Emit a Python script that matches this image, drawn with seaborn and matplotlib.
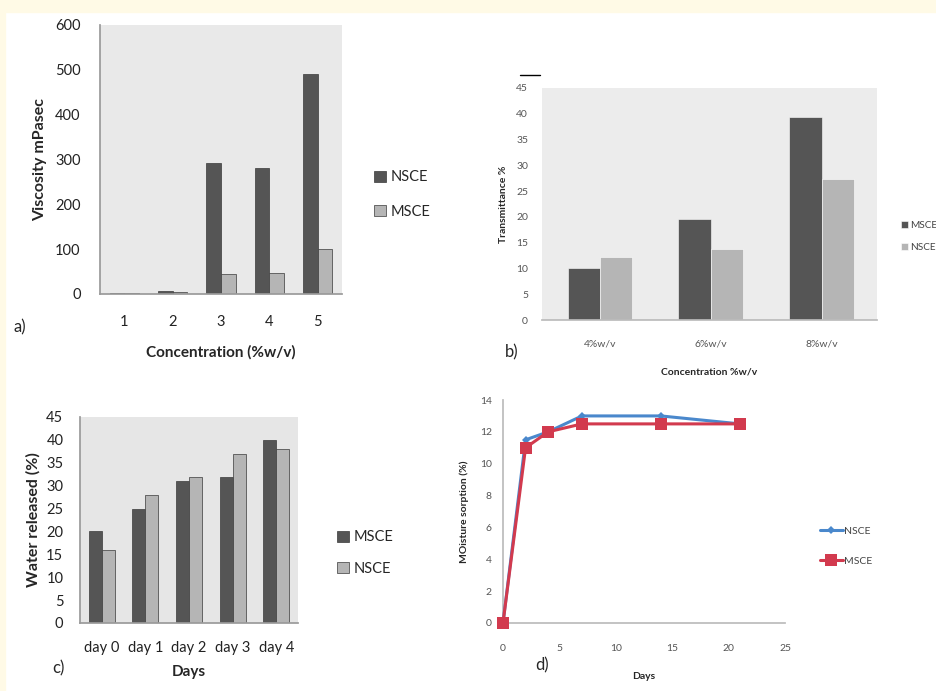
import numpy as np
import pandas as pd
import matplotlib
matplotlib.use("Agg")
import matplotlib.pyplot as plt
import seaborn as sns

# a) viscosity
conc_a = ["1", "2", "3", "4", "5"]
visc_nsce = [3, 6, 293, 280, 490]
visc_msce = [2, 5, 45, 46, 100]

# b) transmittance
conc_b = ["4%w/v", "6%w/v", "8%w/v"]
trans_msce = [10, 19.5, 39.3]
trans_nsce = [12.3, 13.8, 27.3]

# c) water released
days_c = ["day 0", "day 1", "day 2", "day 3", "day 4"]
water_msce = [20, 25, 31, 32, 40]
water_nsce = [16, 28, 32, 37, 38]

# d) moisture sorption
days_d = [0, 2, 4, 7, 14, 21]
moist_nsce = [0, 11.5, 12, 13, 13, 12.5]
moist_msce = [0, 11, 12, 12.5, 12.5, 12.5]

sns.set_theme(style="white")
plt.rcParams["font.family"] = ["Lato", "DejaVu Sans"]

DARK = "#555555"
LIGHT = "#b5b5b5"
W, H = 937, 691
fig = plt.figure(figsize=(W / 100, H / 100), dpi=100)
fig.patch.set_facecolor("white")

# cream border of the page
fig.patches.append(plt.Rectangle((0, 1 - 12 / H), 1, 12 / H, transform=fig.transFigure,
                                 color="#fffae6", zorder=0))
fig.patches.append(plt.Rectangle((0, 0), 5 / W, 1, transform=fig.transFigure,
                                 color="#fffae6", zorder=0))


def px_axes(x0, y0, x1, y1):
    return fig.add_axes([x0 / W, 1 - y1 / H, (x1 - x0) / W, (y1 - y0) / H])


def long(cats, s1, v1, s2, v2, name):
    return pd.DataFrame({name: list(cats) * 2,
                         "val": list(v1) + list(v2),
                         "series": [s1] * len(cats) + [s2] * len(cats)})


def style_bar_axes(ax, face):
    ax.set_facecolor(face)
    for s in ["top", "right"]:
        ax.spines[s].set_visible(False)
    ax.spines["left"].set_color("#9a9a9a")
    ax.spines["bottom"].set_color("#9a9a9a")
    ax.tick_params(length=0)


# ---- a)
ax = px_axes(100, 25, 342, 294)
df_a = long(conc_a, "NSCE", visc_nsce, "MSCE", visc_msce, "conc")
sns.barplot(data=df_a, x="conc", y="val", hue="series", palette=[DARK, LIGHT],
            width=0.6, gap=0.0, edgecolor="#3a3a3a", linewidth=0.5, ax=ax)
style_bar_axes(ax, "#e9e9e9")
ax.set_ylim(0, 600)
ax.set_xlim(-0.5, 4.5)
ax.set_yticks(range(0, 601, 100))
ax.tick_params(axis="x", labelsize=10.5, colors="#222222", pad=15)
ax.tick_params(axis="y", labelsize=10.5, colors="#222222", pad=14)
ax.set_xlabel("Concentration (%w/v)", fontsize=11, fontweight="bold", labelpad=12)
ax.set_ylabel("Viscosity mPasec", fontsize=11.5, fontweight="bold", labelpad=6)
ax.legend(loc="center left", bbox_to_anchor=(1.08, 0.37), frameon=False,
          fontsize=10.5, handlelength=0.8, handleheight=0.8, handletextpad=0.3,
          labelspacing=1.4)
fig.text(14 / W, 1 - 327 / H, "a)", fontsize=12, va="center")

# ---- b)
ax = px_axes(542, 88, 877, 320)
df_b = long(conc_b, "MSCE", trans_msce, "NSCE", trans_nsce, "conc")
sns.barplot(data=df_b, x="conc", y="val", hue="series", palette=[DARK, LIGHT],
            width=0.58, gap=0.0, edgecolor="white", linewidth=0.4, ax=ax)
style_bar_axes(ax, "#ececec")
ax.spines["left"].set_visible(False)
ax.spines["bottom"].set_color("#bbbbbb")
ax.set_ylim(0, 45)
ax.set_xlim(-0.52, 2.5)
ax.set_yticks(range(0, 46, 5))
ax.tick_params(axis="x", labelsize=7.5, colors="#555555", pad=14)
ax.tick_params(axis="y", labelsize=7.5, colors="#555555", pad=10)
ax.set_xlabel("Concentration %w/v", fontsize=7.5, fontweight="bold", labelpad=14)
ax.set_ylabel("Transmittance %", fontsize=7.5, fontweight="bold", labelpad=6)
ax.legend(loc="center left", bbox_to_anchor=(1.045, 0.36), frameon=False,
          fontsize=7.2, handlelength=0.7, handleheight=0.7, handletextpad=0.2,
          labelspacing=1.3, labelcolor="#444444")
fig.text(505 / W, 1 - 352 / H, "b)", fontsize=12, va="center")
fig.lines.append(plt.Line2D([520 / W, 540 / W], [1 - 75 / H, 1 - 75 / H],
                            transform=fig.transFigure, color="black", lw=1))

# ---- c)
ax = px_axes(80, 417, 298, 623)
df_c = long(days_c, "MSCE", water_msce, "NSCE", water_nsce, "day")
sns.barplot(data=df_c, x="day", y="val", hue="series", palette=[DARK, LIGHT],
            width=0.6, gap=0.0, edgecolor="#3a3a3a", linewidth=0.5, ax=ax)
style_bar_axes(ax, "#e6e6e6")
ax.set_ylim(0, 45)
ax.set_xlim(-0.5, 4.5)
ax.set_yticks(range(0, 46, 5))
ax.tick_params(axis="x", labelsize=10.5, colors="#222222", pad=13)
ax.tick_params(axis="y", labelsize=10.5, colors="#222222", pad=12)
ax.set_xlabel("Days", fontsize=11, fontweight="bold", labelpad=7)
ax.set_ylabel("Water released (%)", fontsize=11.5, fontweight="bold", labelpad=4)
ax.legend(loc="center left", bbox_to_anchor=(1.12, 0.34), frameon=False,
          fontsize=10.5, handlelength=0.8, handleheight=0.8, handletextpad=0.3,
          labelspacing=1.2)
fig.text(52 / W, 1 - 668 / H, "c)", fontsize=12, va="center")

# ---- d)
ax = px_axes(503, 400, 785, 623)
df_d = pd.DataFrame({"day": days_d * 2,
                     "val": moist_nsce + moist_msce,
                     "series": ["NSCE"] * len(days_d) + ["MSCE"] * len(days_d)})
sns.lineplot(data=df_d, x="day", y="val", hue="series", style="series",
             palette={"NSCE": "#4a88cc", "MSCE": "#d23a4e"},
             markers={"NSCE": "D", "MSCE": "s"}, dashes=False, lw=2.2,
             markersize=6, markeredgewidth=0, ax=ax, zorder=3)
for line in ax.lines:
    if line.get_marker() == "D":
        line.set_markersize(4.5)
    else:
        line.set_markersize(8)
ax.set_facecolor("white")
for s in ["top", "right"]:
    ax.spines[s].set_visible(False)
ax.spines["left"].set_color("#bbbbbb")
ax.spines["bottom"].set_color("#bbbbbb")
ax.tick_params(length=0, labelsize=7.5, colors="#555555")
ax.tick_params(axis="x", pad=15)
ax.tick_params(axis="y", pad=8)
ax.set_xlim(0, 25)
ax.set_ylim(0, 14)
ax.set_xticks(range(0, 26, 5))
ax.set_yticks(range(0, 15, 2))
ax.set_xlabel("Days", fontsize=7.5, fontweight="bold", labelpad=14)
ax.set_ylabel("MOisture sorption (%)", fontsize=7.5, fontweight="bold", labelpad=8)
for a in ax.lines:
    a.set_clip_on(False)
ax.legend(loc="center left", bbox_to_anchor=(1.09, 0.345), frameon=False,
          fontsize=7.5, handlelength=2.2, handletextpad=0.1, labelspacing=2.0,
          labelcolor="#444444")
fig.text(535 / W, 1 - 665 / H, "d)", fontsize=12, va="center")

fig.savefig("out.png", dpi=100)
